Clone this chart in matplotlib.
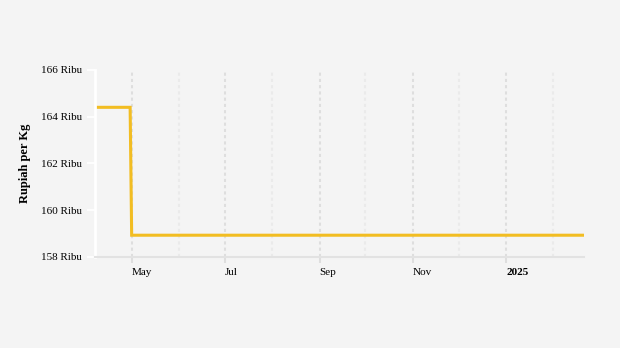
import datetime as dt
import matplotlib.pyplot as plt
import matplotlib.dates as mdates
from matplotlib.ticker import FuncFormatter

# harga (ribu rupiah per kg)
dates = [dt.date(2024, 4, 7), dt.date(2024, 4, 30), dt.date(2024, 5, 1), dt.date(2025, 2, 21)]
prices = [164.4, 164.4, 158.92, 158.92]
yticks = [158, 160, 162, 164, 166]

bg = "#f4f4f4"
plt.rcParams['font.family'] = ['Liberation Serif', 'DejaVu Serif']

fig = plt.figure(figsize=(6.2, 3.48), dpi=100, facecolor=bg)
ax = fig.add_axes([0.1532, 0.2624, 0.7887, 0.5365], facecolor=bg)

ax.plot(dates, prices, color="#f2bd22", lw=2.2, solid_joinstyle="miter")

ax.set_xlim(dt.date(2024, 4, 7), dt.date(2025, 2, 21))
ax.set_ylim(158, 166)
ax.set_yticks(yticks)
ax.yaxis.set_major_formatter(FuncFormatter(lambda v, p: f"{v:.0f} Ribu"))

major = mdates.MonthLocator(bymonth=[1, 3, 5, 7, 9, 11])
minor = mdates.MonthLocator(bymonth=[2, 4, 6, 8, 10, 12])
ax.xaxis.set_major_locator(major)
ax.xaxis.set_minor_locator(minor)
ax.xaxis.set_major_formatter(FuncFormatter(
    lambda v, p: str(mdates.num2date(v).year) if mdates.num2date(v).month == 1
    else mdates.num2date(v).strftime("%b")))

ax.grid(which="major", axis="x", color="#dedede", ls=(0, (1.5, 1.5)), lw=1.5)
ax.grid(which="minor", axis="x", color="#eaeaea", ls=(0, (1.5, 1.5)), lw=1.5)
ax.grid(axis="y", visible=False)

for s in ["top", "right"]:
    ax.spines[s].set_visible(False)
ax.spines["left"].set_color("white")
ax.spines["left"].set_linewidth(2)
ax.spines["bottom"].set_color("#e2e2e2")
ax.spines["bottom"].set_linewidth(1.5)

ax.tick_params(axis="y", color="white", length=6, width=1.2, labelsize=8, pad=3.5)
ax.tick_params(axis="x", which="major", color="#dedede", length=4, width=1.5,
               labelsize=8, pad=4)
ax.tick_params(axis="x", which="minor", length=0)
for lab in ax.get_xticklabels():
    lab.set_horizontalalignment("left")
    if lab.get_text().isdigit():
        lab.set_fontweight("bold")

ax.set_ylabel("Rupiah per Kg", fontsize=9, fontweight="bold", labelpad=7)

fig.savefig("out.png", dpi=100, facecolor=bg)
